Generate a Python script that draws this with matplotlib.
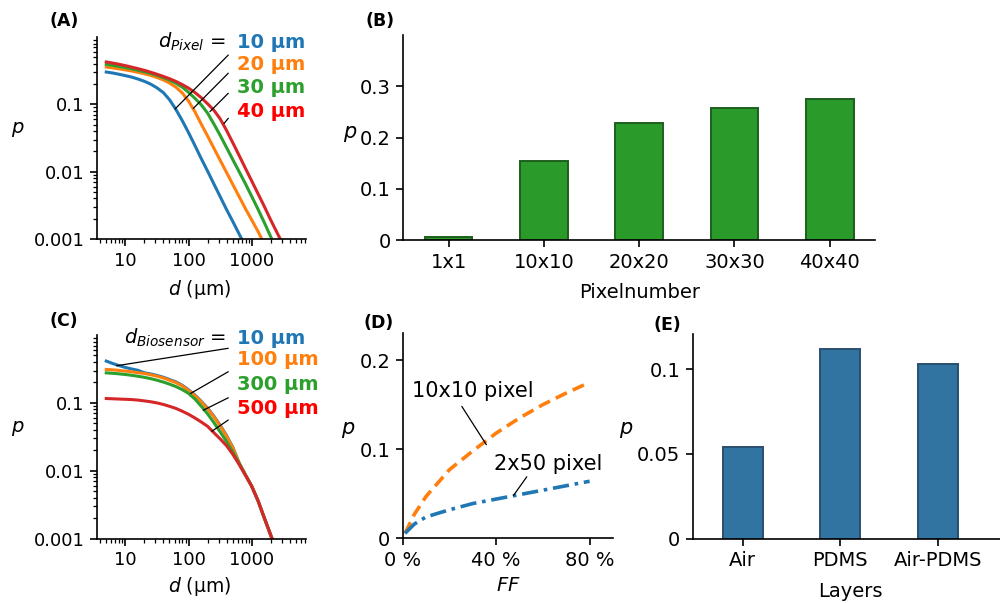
import numpy as np
import matplotlib
matplotlib.use("Agg")
import matplotlib.pyplot as plt
from matplotlib.ticker import LogLocator, FixedLocator, NullFormatter, FixedFormatter

plt.rcParams['font.family'] = ['DejaVu Sans']
plt.rcParams['mathtext.fontset'] = 'dejavusans'

# ---------------- data ----------------
# Panel A: p vs d for several pixel sizes
dA_10 = [5, 6.3, 7.9, 10, 12.6, 15.8, 20, 25.1, 31.6, 39.8, 50.1, 63.1, 79.4, 100, 126, 158,
         200, 251, 316, 398, 501, 692]
pA_10 = [0.302, 0.292, 0.280, 0.267, 0.254, 0.238, 0.220, 0.200, 0.176, 0.150, 0.117, 0.084,
         0.0575, 0.038, 0.0245, 0.0158, 0.0102, 0.0066, 0.00427, 0.00275, 0.00182, 0.001]
dA_20 = [5, 6.3, 7.9, 10, 12.6, 15.8, 20, 25.1, 31.6, 39.8, 50.1, 63.1, 79.4, 100, 126, 158,
         200, 251, 316, 398, 501, 631, 794, 1000, 1259, 1439]
pA_20 = [0.358, 0.348, 0.337, 0.325, 0.313, 0.299, 0.285, 0.269, 0.251, 0.231, 0.207, 0.180,
         0.148, 0.112, 0.0776, 0.0513, 0.0339, 0.0224, 0.0148, 0.00977, 0.00646, 0.00427,
         0.00282, 0.00191, 0.00129, 0.001]
dA_30 = [5, 6.3, 7.9, 10, 12.6, 15.8, 20, 25.1, 31.6, 39.8, 50.1, 63.1, 79.4, 100, 126, 158,
         200, 251, 316, 398, 501, 631, 794, 1000, 1259, 1585, 2070]
pA_30 = [0.393, 0.380, 0.366, 0.352, 0.337, 0.321, 0.305, 0.288, 0.270, 0.250, 0.229, 0.206,
         0.180, 0.151, 0.123, 0.0989, 0.0741, 0.0513, 0.0347, 0.0229, 0.0151, 0.0100,
         0.00661, 0.00427, 0.00275, 0.00174, 0.001]
dA_40 = [5, 6.3, 7.9, 10, 12.6, 15.8, 20, 25.1, 31.6, 39.8, 50.1, 63.1, 79.4, 100, 126, 158,
         200, 251, 316, 398, 501, 631, 794, 1000, 1259, 1585, 1995, 2818]
pA_40 = [0.426, 0.410, 0.394, 0.376, 0.357, 0.339, 0.320, 0.300, 0.280, 0.260, 0.240, 0.219,
         0.197, 0.174, 0.150, 0.126, 0.102, 0.0820, 0.0610, 0.0412, 0.0269, 0.0174, 0.0112,
         0.00724, 0.00468, 0.00302, 0.00191, 0.001]
labels_A = ['10 µm', '20 µm', '30 µm', '40 µm']

# Panel B: bars vs pixel number
cats_B = ['1x1', '10x10', '20x20', '30x30', '40x40']
vals_B = [0.006, 0.154, 0.2285, 0.257, 0.2745]

# Panel C: p vs d for several biosensor diameters
dC = [5, 6.3, 7.9, 10, 12.6, 15.8, 20, 25.1, 31.6, 39.8, 50.1, 63.1, 79.4, 100, 126, 158,
      200, 251, 316, 398, 501, 631, 794, 1000, 1259, 1585, 2090]
pC_10 = [0.413, 0.381, 0.355, 0.333, 0.316, 0.302, 0.278, 0.267, 0.254, 0.239, 0.221, 0.204,
         0.182, 0.156, 0.131, 0.106, 0.084, 0.064, 0.047, 0.0332, 0.0222, 0.0131,
         0.0087, 0.00590, 0.00360, 0.0020, 0.001]
pC_100 = [0.311, 0.307, 0.301, 0.294, 0.287, 0.279, 0.271, 0.260, 0.248, 0.233, 0.216, 0.199,
          0.178, 0.152, 0.128, 0.104, 0.082, 0.0625, 0.046, 0.0325, 0.0218, 0.0130,
          0.0087, 0.00590, 0.00360, 0.0020, 0.001]
pC_300 = [0.277, 0.273, 0.268, 0.262, 0.255, 0.247, 0.238, 0.228, 0.216, 0.203, 0.189, 0.174,
          0.157, 0.138, 0.114, 0.090, 0.069, 0.0515, 0.0375, 0.0270, 0.0190, 0.0128,
          0.0087, 0.00590, 0.00360, 0.0020, 0.001]
pC_500 = [0.116, 0.115, 0.114, 0.113, 0.112, 0.110, 0.107, 0.104, 0.100, 0.095, 0.089, 0.083,
          0.0755, 0.068, 0.060, 0.0525, 0.0452, 0.0365, 0.0295, 0.0235, 0.0175, 0.0124,
          0.0086, 0.00590, 0.00360, 0.0020, 0.001]
labels_C = ['10 µm', '100 µm', '300 µm', '500 µm']

# Panel D: p vs fill factor
FF = [0.01, 0.05, 0.1, 0.2, 0.3, 0.4, 0.5, 0.6, 0.7, 0.8]
pD_10x10 = [0.0056, 0.027, 0.047, 0.077, 0.098, 0.118, 0.135, 0.150, 0.163, 0.175]
pD_2x50 = [0.0056, 0.016, 0.024, 0.032, 0.039, 0.044, 0.049, 0.054, 0.059, 0.064]

# Panel E: bars vs layers
cats_E = ['Air', 'PDMS', 'Air-PDMS']
vals_E = [0.0541, 0.1116, 0.1033]

# ---------------- figure ----------------
fig = plt.figure(figsize=(10, 6.03), dpi=100)
W, H = 1000, 603


def px_axes(l, t, r, b):
    return fig.add_axes([l / W, 1 - b / H, (r - l) / W, (b - t) / H])


blue, orange, green, red = '#1f77b4', '#ff7f0e', '#2ca02c', '#d62728'
lw_sp = 1.2


def style(ax, size):
    for s in ['top', 'right']:
        ax.spines[s].set_visible(False)
    for s in ['left', 'bottom']:
        ax.spines[s].set_linewidth(lw_sp)
    ax.tick_params(which='major', direction='out', length=5, width=1.2, labelsize=size, pad=4)
    ax.tick_params(which='minor', direction='out', length=2.8, width=0.9)


# ---- Panel A ----
axA = px_axes(97, 37, 306, 239)
for d, p, c in zip([dA_10, dA_20, dA_30, dA_40], [pA_10, pA_20, pA_30, pA_40], [blue, orange, green, red]):
    axA.plot(d, p, color=c, lw=2.2)

# ---- Panel C ----
axC = px_axes(97, 335, 306, 538.7)
for p, c in zip([pC_10, pC_100, pC_300, pC_500], [blue, orange, green, red]):
    axC.plot(dC, p, color=c, lw=2.2)

for ax in (axA, axC):
    ax.set_xscale('log')
    ax.set_yscale('log')
    ax.set_xlim(3.57, 7200)
    ax.set_ylim(0.001, 1.0)
    style(ax, 13)
    ax.xaxis.set_major_locator(FixedLocator([10, 100, 1000]))
    ax.xaxis.set_major_formatter(FixedFormatter(['10', '100', '1000']))
    ax.xaxis.set_minor_locator(LogLocator(base=10, subs=np.arange(2, 10), numticks=20))
    ax.xaxis.set_minor_formatter(NullFormatter())
    ax.yaxis.set_major_locator(FixedLocator([0.001, 0.01, 0.1]))
    ax.yaxis.set_major_formatter(FixedFormatter(['0.001', '0.01', '0.1']))
    ax.yaxis.set_minor_locator(LogLocator(base=10, subs=np.arange(2, 10), numticks=20))
    ax.yaxis.set_minor_formatter(NullFormatter())
    ax.set_xlabel(r'$d$ (µm)', fontsize=13.5, va='center')
    ax.set_ylabel(r'$p$', fontsize=14, rotation=0, va='center', ha='center')
    ax.yaxis.set_label_coords(-0.378, 0.54)
axA.xaxis.set_label_coords(0.49, -0.25)
axC.xaxis.set_label_coords(0.49, -0.237)

# annotations A
axA.text(0.617, 0.946, r'$d_{Pixel}$ =', transform=axA.transAxes, ha='right', va='baseline', fontsize=14)
ys_A = [0.944, 0.836, 0.721, 0.602]
txtcols_A = [blue, orange, green, 'red']
for y, lab, c in zip(ys_A, labels_A, txtcols_A):
    axA.text(0.67, y, lab, transform=axA.transAxes, ha='left', va='baseline', fontsize=14,
             fontweight='bold', color=c, clip_on=False)
linesA = [((425, 0.54), (61, 0.085)), ((425, 0.29), (119, 0.087)),
          ((425, 0.146), (218, 0.078)), ((425, 0.062), (364, 0.052))]
for s, e in linesA:
    axA.annotate('', xy=e, xytext=s, arrowprops=dict(arrowstyle='-', color='k', lw=0.9, shrinkA=0, shrinkB=0))

# annotations C
axC.text(0.617, 0.956, r'$d_{Biosensor}$ =', transform=axC.transAxes, ha='right', va='baseline', fontsize=14)
ys_C = [0.956, 0.851, 0.730, 0.611]
for y, lab, c in zip(ys_C, labels_C, txtcols_A):
    axC.text(0.668, y, lab, transform=axC.transAxes, ha='left', va='baseline', fontsize=14,
             fontweight='bold', color=c, clip_on=False)
linesC = [((425, 0.637), (7.3, 0.353)), ((425, 0.288), (108, 0.138)),
          ((425, 0.119), (171, 0.0780)), ((425, 0.056), (232, 0.0380))]
for s, e in linesC:
    axC.annotate('', xy=e, xytext=s, arrowprops=dict(arrowstyle='-', color='k', lw=0.9, shrinkA=0, shrinkB=0))

# ---- Panel B ----
axB = px_axes(403.3, 35, 875, 240)
xB = np.arange(len(cats_B))
axB.bar(xB, vals_B, width=0.5, color='#2a9a2a', edgecolor='#1d5f1d', linewidth=1.4)
axB.set_xticks(xB)
axB.set_xticklabels(cats_B)
axB.set_ylim(0, 0.4)
axB.set_yticks([0, 0.1, 0.2, 0.3])
axB.set_yticklabels(['0', '0.1', '0.2', '0.3'])
style(axB, 14)
axB.set_xlabel('Pixelnumber', fontsize=14, va='center')
axB.xaxis.set_label_coords(0.5, -0.255)
axB.set_ylabel(r'$p$', fontsize=15, rotation=0, va='center', ha='center')
axB.yaxis.set_label_coords(-0.113, 0.517)

# ---- Panel D ----
axD = px_axes(402.7, 333.3, 613, 538.3)
axD.plot(FF, pD_10x10, color=orange, lw=2.6, ls=(0, (3.4, 1.8)))
axD.plot(FF, pD_2x50, color=blue, lw=2.6, ls=(0, (4.5, 1.6, 1.0, 1.6)))
axD.set_xlim(0, 0.9)
axD.set_ylim(0, 0.23)
axD.set_xticks([0, 0.4, 0.8])
axD.set_xticklabels(['0 %', '40 %', '80 %'])
axD.set_yticks([0, 0.1, 0.2])
axD.set_yticklabels(['0', '0.1', '0.2'])
style(axD, 14)
axD.set_xlabel(r'$FF$', fontsize=14, va='center')
axD.xaxis.set_label_coords(0.5, -0.228)
axD.set_ylabel(r'$p$', fontsize=15, rotation=0, va='center', ha='center')
axD.yaxis.set_label_coords(-0.26, 0.528)
axD.text(0.301, 0.1657, '10x10 pixel', ha='center', va='center', fontsize=15)
axD.text(0.623, 0.0828, '2x50 pixel', ha='center', va='center', fontsize=15)
axD.annotate('', xy=(0.358, 0.105), xytext=(0.253, 0.148),
             arrowprops=dict(arrowstyle='-', color='k', lw=0.9, shrinkA=0, shrinkB=0))
axD.annotate('', xy=(0.474, 0.048), xytext=(0.531, 0.069),
             arrowprops=dict(arrowstyle='-', color='k', lw=0.9, shrinkA=0, shrinkB=0))

# ---- Panel E ----
axE = px_axes(692.7, 334, 1000, 538.7)
xE = np.arange(len(cats_E))
axE.bar(xE, vals_E, width=0.41, color='#3274a1', edgecolor='#2a4f6e', linewidth=1.4)
axE.set_xlim(-0.51, 2.635)
axE.set_ylim(0, 0.1207)
axE.set_xticks(xE)
axE.set_xticklabels(cats_E)
axE.set_yticks([0, 0.05, 0.1])
axE.set_yticklabels(['0', '0.05', '0.1'])
style(axE, 14)
axE.set_xlabel('Layers', fontsize=14, va='center')
axE.xaxis.set_label_coords(0.512, -0.26)
axE.set_ylabel(r'$p$', fontsize=15, rotation=0, va='center', ha='center')
axE.yaxis.set_label_coords(-0.217, 0.531)

# panel letters
for lab, x, y in [('(A)', 64, 21), ('(B)', 380, 21), ('(C)', 64, 321), ('(D)', 379, 323), ('(E)', 667, 325)]:
    fig.text(x / W, 1 - y / H, lab, ha='center', va='center', fontsize=12.5, fontweight='bold')

fig.savefig('out.png', dpi=100)
